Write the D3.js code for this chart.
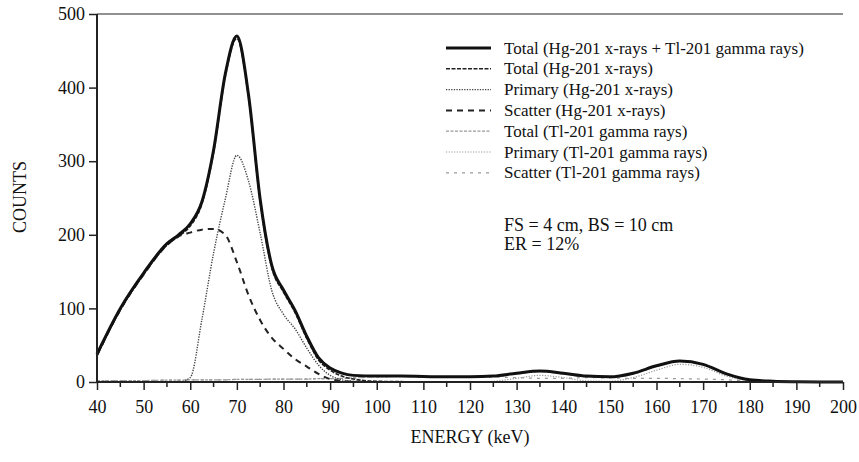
<!DOCTYPE html>
<html><head><meta charset="utf-8">
<script src="https://cdn.jsdelivr.net/npm/d3@7"></script>
<style>
body{margin:0;background:#fff}
svg{display:block}
text{font-family:"Liberation Serif","Times New Roman",serif;fill:#111}
</style>
</head><body>
<svg id="chart" width="859" height="462"></svg>
<script>
// ---- data ----
const energy = [40,45,50,55,57.5,60,62.5,65,67.5,70,72.5,75,77.5,80,82.5,85,87.5,90,92.5,95,100,105,110,115,120,125,130,135,140,145,150,155,160,165,170,175,180,185,190,195,200];
const totalAll  = [38,100,148,188,200,215,245,315,418,470,390,248,158,125,97,62,33,19,12,9,8,8,7.5,7,7,8,12,15,12,8,7,12,22,28.5,24,11,3,1,0.3,0,0];
const totalHg   = [36,98,146,186,198,212,242,312,415,467,387,245,155,122,94,59,30,16,8,4,1,0.5,0,0,0,0,0,0,0,0,0,0,0,0,0,0,0,0,0,0,0];
const primaryHg = [0,0,0,0,0,6,85,175,248,308,273,202,124,92,72,46,23,9,3,1,0,0,0,0,0,0,0,0,0,0,0,0,0,0,0,0,0,0,0,0,0];
const scatterHg = [36,98,146,186,198,203,207,208,200,163,118,84,60,45,31,21,11,4,1.5,0.5,0,0,0,0,0,0,0,0,0,0,0,0,0,0,0,0,0,0,0,0,0];
const totalTl   = [2,2,2,2.5,2.5,3,3,3,3,3.5,3.5,3.5,4,4,4,4,4.5,4.5,5,5.5,7,7.5,7,6.5,6.5,7.5,11,14,11,7.5,6.5,11,21,28,24,11,3,1,0.3,0,0];
const primaryTl = [0,0,0,0,0,0,0,0,0,0,0,0,0,0,0,0,0,0,0,0,0,0,0,0,0,1,5,9,6,1.5,1,6,16,24,20,8,1.5,0.3,0,0,0];
const scatterTl = [2,2,2,2.5,2.5,3,3,3,3,3.5,3.5,3.5,4,4,4,4,4.5,4.5,5,5.5,7,7.5,7,6.5,6.5,6.5,6,5,5,6,5.5,5,5,4.5,4,3,1.5,0.7,0.3,0,0];
const seriesNames = [
  "Total (Hg-201 x-rays + Tl-201 gamma rays)",
  "Total (Hg-201 x-rays)",
  "Primary (Hg-201 x-rays)",
  "Scatter (Hg-201 x-rays)",
  "Total (Tl-201 gamma rays)",
  "Primary (Tl-201 gamma rays)",
  "Scatter (Tl-201 gamma rays)"
];
const xTicks = [40,50,60,70,80,90,100,110,120,130,140,150,160,170,180,190,200];
const yTicks = [0,100,200,300,400,500];
const notes = ["FS = 4 cm, BS = 10 cm", "ER = 12%"];

// ---- styles ----
const styles = [
  {stroke:"#111", width:3,   dash:null},
  {stroke:"#222", width:1.6, dash:"4,1.5"},
  {stroke:"#444", width:1.4, dash:"1.3,1.3"},
  {stroke:"#222", width:2,   dash:"6,5"},
  {stroke:"#999", width:1.2, dash:"3,1.5"},
  {stroke:"#999", width:1.2, dash:"1.2,1.5"},
  {stroke:"#999", width:1.2, dash:"3,5"}
];
const seriesValues = [totalAll,totalHg,primaryHg,scatterHg,totalTl,primaryTl,scatterTl];

const svg = d3.select("#chart");
const L=97, R=843, T=14, B=382;
const x = d3.scaleLinear().domain([40,200]).range([L,R]);
const y = d3.scaleLinear().domain([0,500]).range([B,T]);
const FONT = '"Liberation Serif","Times New Roman",serif';

// top frame line
svg.append("line").attr("x1",L).attr("x2",R).attr("y1",T).attr("y2",T)
  .attr("stroke","#222").attr("stroke-width",1.2);

// series (draw light ones first, total last)
const line = d3.line().x((d,i)=>x(energy[i])).y(d=>y(d)).curve(d3.curveMonotoneX);
[6,5,4,3,2,1,0].forEach(k=>{
  svg.append("path").datum(seriesValues[k])
    .attr("d",line).attr("fill","none")
    .attr("stroke",styles[k].stroke).attr("stroke-width",styles[k].width)
    .attr("stroke-dasharray",styles[k].dash)
    .attr("stroke-linejoin","round");
});

// x axis
const minor = d3.range(45,200,10);
const gx = svg.append("g").attr("transform",`translate(0,${B})`);
gx.call(d3.axisBottom(x).tickValues(xTicks).tickSize(8).tickPadding(10).tickFormat(d3.format("d")));
gx.selectAll(".tick line").attr("stroke","#222").attr("stroke-width",1.5);
gx.selectAll(".tick text").style("font-size","18px").style("font-family",FONT).attr("fill","#111");
gx.select(".domain").attr("stroke","#222").attr("stroke-width",2).attr("d",`M${L},0H${R}`);
gx.selectAll(".minor").data(minor).enter().append("line").attr("class","minor")
  .attr("x1",d=>x(d)).attr("x2",d=>x(d)).attr("y1",0).attr("y2",5)
  .attr("stroke","#222").attr("stroke-width",1.5);

// y axis
const gy = svg.append("g").attr("transform",`translate(${L},0)`);
gy.call(d3.axisLeft(y).tickValues(yTicks).tickSize(8).tickPadding(4).tickFormat(d3.format("d")));
gy.selectAll(".tick line").attr("stroke","#222").attr("stroke-width",1.5);
gy.selectAll(".tick text").style("font-size","18px").style("font-family",FONT).attr("fill","#111");
gy.select(".domain").attr("stroke","#222").attr("stroke-width",2).attr("d",`M0,${T}V${B}`);

// axis titles
svg.append("text").attr("transform","translate(26,197) rotate(-90)")
  .attr("text-anchor","middle").style("font-size","18px").text("COUNTS");
svg.append("text").attr("x",470).attr("y",443)
  .attr("text-anchor","middle").style("font-size","18px").text("ENERGY (keV)");

// legend
const lg = svg.append("g");
seriesNames.forEach((name,i)=>{
  const yy = 48 + i*20.8;
  lg.append("line").attr("x1",446).attr("x2",491).attr("y1",yy).attr("y2",yy)
    .attr("stroke",styles[i].stroke).attr("stroke-width",styles[i].width)
    .attr("stroke-dasharray",styles[i].dash);
  lg.append("text").attr("x",504).attr("y",yy+5.5).style("font-size","17px").text(name);
});
notes.forEach((t,i)=>{
  svg.append("text").attr("x",504).attr("y",231+i*18.5).style("font-size","18px").text(t);
});
</script>
</body></html>
